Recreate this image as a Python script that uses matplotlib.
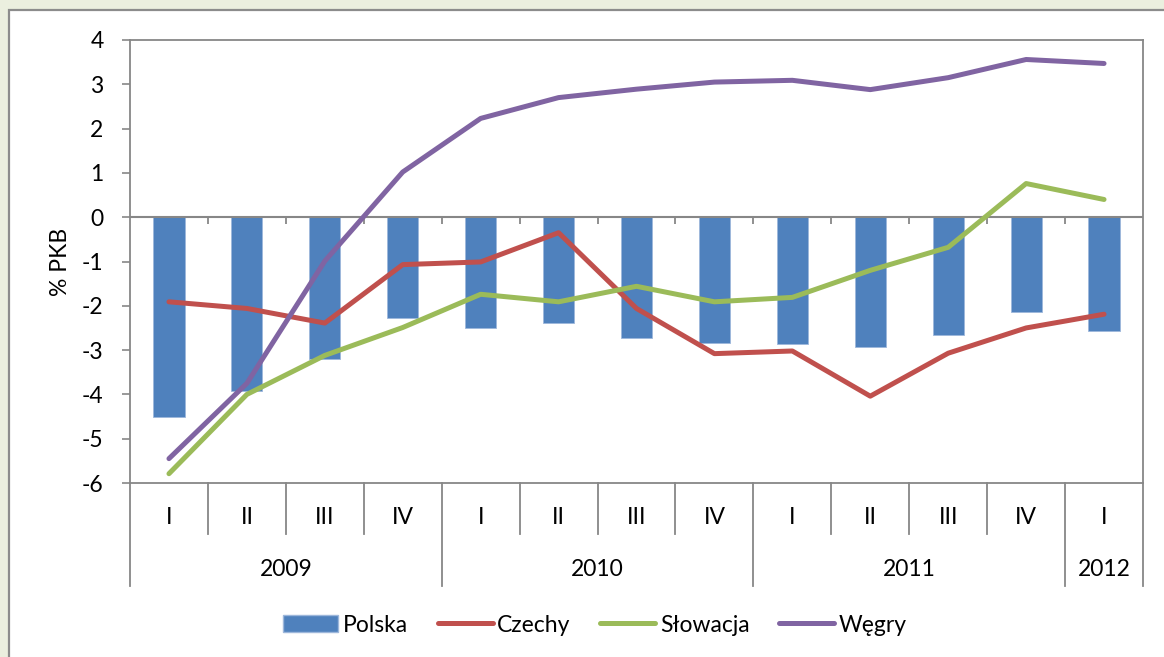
import matplotlib
matplotlib.use("Agg")
import matplotlib.pyplot as plt
from matplotlib.patches import Rectangle, Patch
from matplotlib.lines import Line2D
import matplotlib.transforms as mtransforms

plt.rcParams['font.family'] = ['Lato', 'DejaVu Sans']

quarters = ['I', 'II', 'III', 'IV', 'I', 'II', 'III', 'IV', 'I', 'II', 'III', 'IV', 'I']
years = ['2009', '2010', '2011', '2012']
year_counts = [4, 4, 4, 1]

polska = [-4.52, -3.93, -3.20, -2.27, -2.50, -2.38, -2.72, -2.84, -2.87, -2.92, -2.65, -2.13, -2.56]
czechy = [-1.91, -2.06, -2.39, -1.07, -1.01, -0.35, -2.06, -3.08, -3.02, -4.04, -3.07, -2.50, -2.19]
slowacja = [-5.79, -4.00, -3.12, -2.49, -1.74, -1.91, -1.56, -1.91, -1.81, -1.20, -0.68, 0.76, 0.40]
wegry = [-5.45, -3.75, -0.99, 1.02, 2.23, 2.70, 2.89, 3.05, 3.09, 2.88, 3.15, 3.56, 3.47]

series_names = ['Polska', 'Czechy', 'Słowacja', 'Węgry']

FS = 16.5
LW = 3.6
W, H = 1164, 657
fig = plt.figure(figsize=(W / 100, H / 100), dpi=100)
fig.patch.set_facecolor('#EBEFDF')

# white frame box (cropped at right and bottom)
frame = Rectangle((9 / W, -0.05), 1.1, 1 - 10 / H + 0.05, transform=fig.transFigure,
                  facecolor='white', edgecolor='#8C8C8C', linewidth=1.6, zorder=-5)
fig.patches.append(frame)

ax = fig.add_axes([130 / W, 1 - 483 / H, (1143 - 130) / W, (483 - 40) / H])
ax.set_zorder(1)
ax.set_facecolor('white')

n = len(quarters)
x = list(range(n))
gray = '#878787'

ax.bar(x, polska, width=0.4, color='#4F81BD', edgecolor='#9DB7DB', linewidth=0.6, zorder=2)
ax.plot(x, czechy, color='#C0504D', lw=LW, solid_capstyle='round', solid_joinstyle='round', zorder=3)
ax.plot(x, slowacja, color='#9BBB59', lw=LW, solid_capstyle='round', solid_joinstyle='round', zorder=3)
ax.plot(x, wegry, color='#8064A2', lw=LW, solid_capstyle='round', solid_joinstyle='round', zorder=4)

ax.set_xlim(-0.5, n - 0.5)
ax.set_ylim(-6, 4)
ax.set_yticks(range(-6, 5))
ax.set_yticklabels([str(v) for v in range(-6, 5)])
ax.tick_params(axis='y', direction='out', length=6, width=1.2, color=gray, pad=13, labelsize=FS)
ax.set_xticks([])
for s in ax.spines.values():
    s.set_color(gray)
    s.set_linewidth(1.3)

# zero axis line and category ticks
ax.axhline(0, color=gray, lw=1.5, zorder=2.5)
for k in range(1, n):
    ax.plot([k - 0.5, k - 0.5], [0, -0.16], color=gray, lw=1.3, zorder=2.6, solid_capstyle='butt')

ax.set_ylabel('% PKB', fontsize=FS, labelpad=8)

# multi-level category labels
blend = mtransforms.blended_transform_factory(ax.transData, ax.transAxes)
axh = 483 - 40
def ypos(py):
    return (483 - py) / axh

for i, q in enumerate(quarters):
    ax.text(i, ypos(518), q, transform=blend, ha='center', va='center', fontsize=FS, clip_on=False)

boundaries = [0]
for c in year_counts:
    boundaries.append(boundaries[-1] + c)
for k in range(n + 1):
    yb = 586 if k in boundaries else 534
    ax.add_line(Line2D([k - 0.5, k - 0.5], [0, ypos(yb)], transform=blend, color=gray, lw=1.3, clip_on=False))
for j, yr in enumerate(years):
    cx = (boundaries[j] + boundaries[j + 1]) / 2 - 0.5
    ax.text(cx, ypos(570), yr, transform=blend, ha='center', va='center', fontsize=FS, clip_on=False)

handles = [Patch(facecolor='#4F81BD', edgecolor='#9DB7DB'),
           Line2D([], [], color='#C0504D', lw=LW, solid_capstyle='round'),
           Line2D([], [], color='#9BBB59', lw=LW, solid_capstyle='round'),
           Line2D([], [], color='#8064A2', lw=LW, solid_capstyle='round')]
fig.legend(handles, series_names, loc='center', bbox_to_anchor=(595 / W, 1 - 625 / H), ncol=4,
           frameon=False, fontsize=FS, handlelength=2.4, handleheight=0.75, handletextpad=0.2,
           columnspacing=1.3)

fig.savefig('out.png', dpi=100, facecolor=fig.get_facecolor())
